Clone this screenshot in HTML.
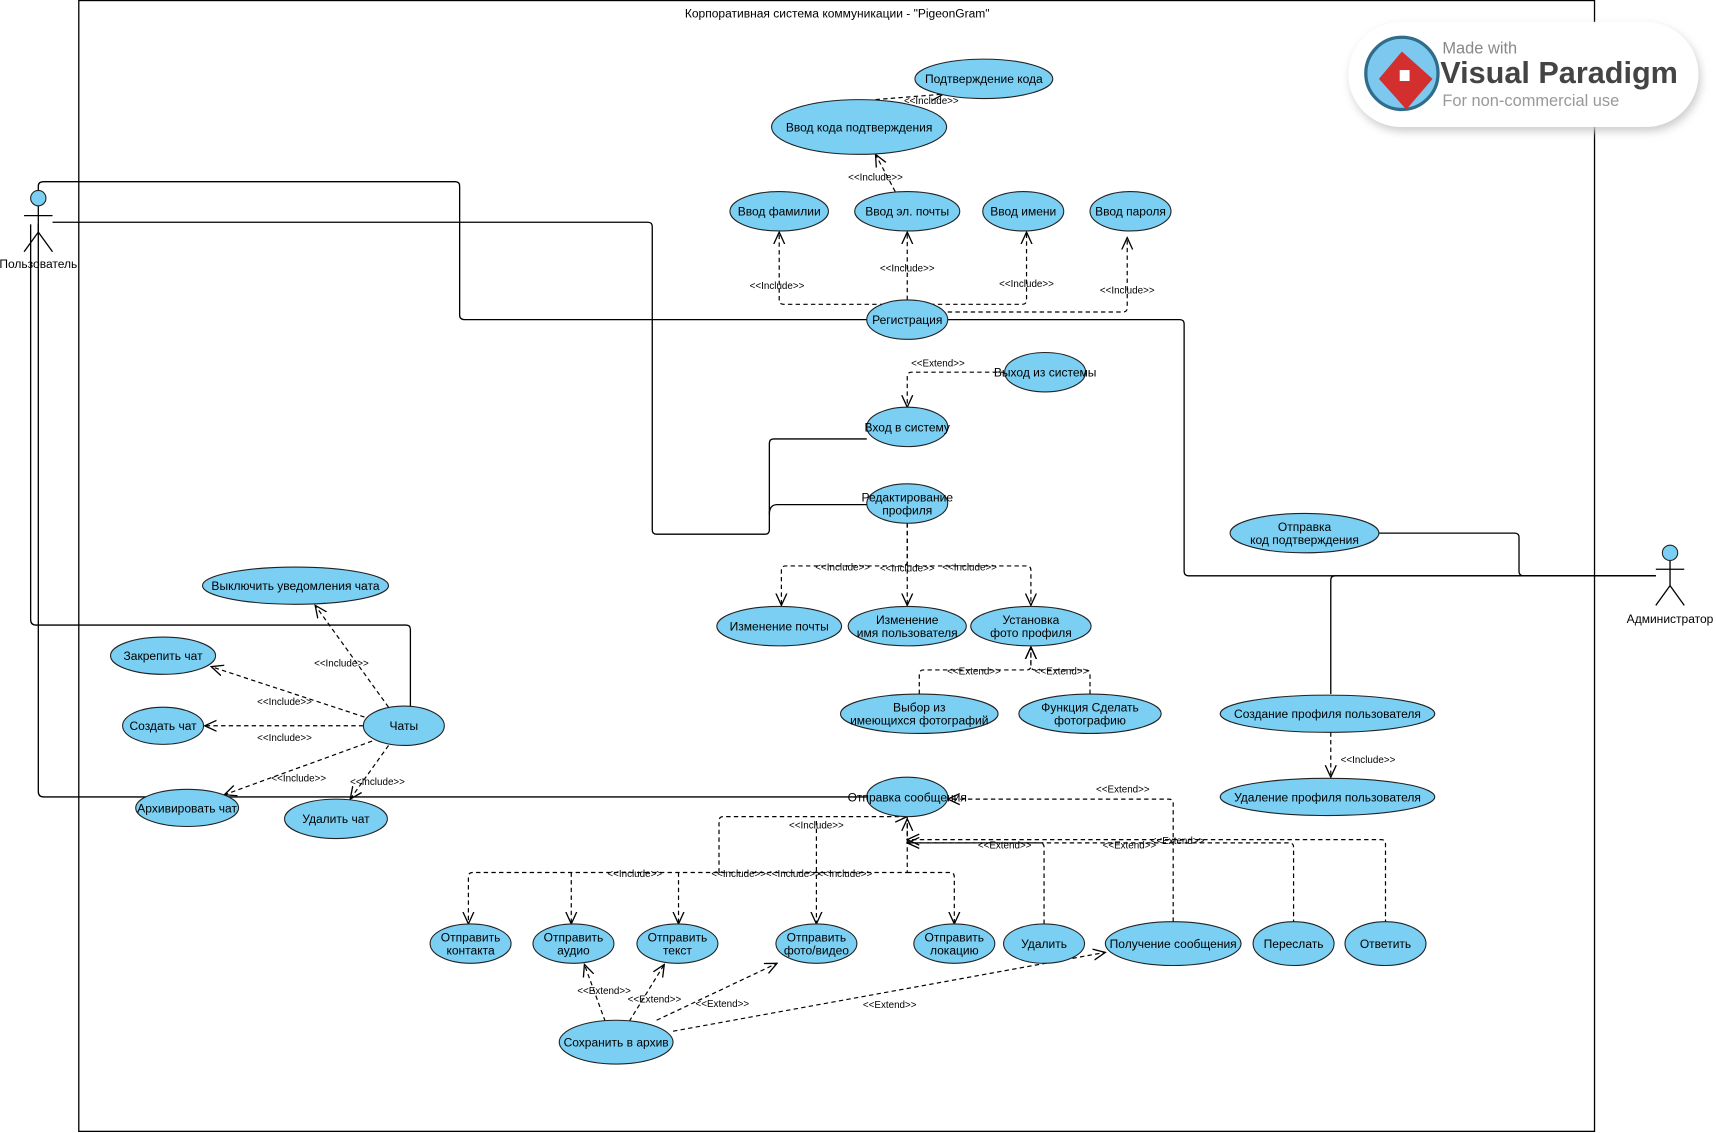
<!DOCTYPE html>
<html><head><meta charset="utf-8"><style>
html,body{margin:0;padding:0;background:#fff;}
svg{display:block;}
text{font-family:"Liberation Sans",sans-serif;}
.e{fill:#7acff2;stroke:#222;stroke-width:1}
.t{font-size:11px;text-anchor:middle;fill:#000}
.l{font-size:9px;text-anchor:middle;fill:#000}
.s{fill:none;stroke:#000;stroke-width:1.2}
.d{fill:none;stroke:#000;stroke-width:1.1;stroke-dasharray:4,3}
</style></head><body>
<svg width="1716" height="1133" viewBox="0 0 1568 1035" preserveAspectRatio="none" xmlns="http://www.w3.org/2000/svg">
<defs>
<marker id="a" viewBox="0 0 12 12" refX="11" refY="6" markerWidth="12" markerHeight="12" markerUnits="userSpaceOnUse" orient="auto"><path d="M0,1 L11,6 L0,11" fill="none" stroke="#000" stroke-width="1.2"/></marker>
<filter id="sh" x="-20%" y="-40%" width="140%" height="180%"><feGaussianBlur stdDeviation="4"/></filter>
</defs>
<rect x="72" y="0.5" width="1385" height="1033" fill="none" stroke="#000" stroke-width="1.2"/>
<text x="765" y="16" class="t">Корпоративная система коммуникации - "PigeonGram"</text>

<!-- logo -->
<rect x="1234" y="24" width="320" height="96" rx="48" fill="#ccc" filter="url(#sh)"/>
<rect x="1232" y="20" width="320" height="96" rx="48" fill="#fff"/>
<circle cx="1281" cy="67" r="33" fill="#7cc8ef" stroke="#2f6d8a" stroke-width="3"/>
<path d="M1281,47 L1309,72 L1285,100 L1260,72Z" fill="#d32f2f"/>
<rect x="1279" y="64" width="9" height="10" fill="#fff"/>
<text x="1318" y="49" font-size="15" fill="#888">Made with</text>
<text x="1316" y="76" font-size="28" font-weight="bold" fill="#444">Visual Paradigm</text>
<text x="1318" y="97" font-size="15" fill="#999">For non-commercial use</text>

<!-- actor lines -->
<path class="s" d="M35,175 V170 Q35,166 40,166 H416 Q420,166 420,170 V288 Q420,292 425,292 H792"/>
<path class="s" d="M48,203 H592 Q596,203 596,207 V484 Q596,488 600,488 H699 Q703,488 703,484 V405 Q703,401 707,401 H792"/>
<path class="s" d="M703,470 Q703,461 710,461 H792"/>
<path class="s" d="M28,205 V566 Q28,571 33,571 H371 Q375,571 375,575 V646"/>
<path class="s" d="M35,205 V723 Q35,728 40,728 H792"/>
<path class="s" d="M1513,526 H1392 Q1388,526 1388,522 V491 Q1388,487 1384,487 H1260"/>
<path class="s" d="M1513,526 H1086 Q1082,526 1082,522 V296 Q1082,292 1078,292 H866"/>
<path class="s" d="M1513,526 H1220 Q1216,526 1216,530 V634"/>

<!-- actors -->
<g stroke="#000" stroke-width="1.2" fill="none">
<line x1="35" y1="188" x2="35" y2="212"/><line x1="22" y1="197" x2="48" y2="197"/>
<line x1="35" y1="212" x2="22" y2="230"/><line x1="35" y1="212" x2="48" y2="230"/>
<line x1="1526" y1="512" x2="1526" y2="535"/><line x1="1513" y1="520" x2="1539" y2="520"/>
<line x1="1526" y1="535" x2="1513" y2="553"/><line x1="1526" y1="535" x2="1539" y2="553"/>
</g>
<circle cx="35" cy="181" r="7" class="e"/>
<circle cx="1526" cy="505" r="7" class="e"/>
<text x="35" y="245" class="t">Пользователь</text>
<text x="1526" y="569" class="t">Администратор</text>

<!-- dashed arrows -->
<g marker-end="url(#a)">
<path class="d" d="M800,91 L862,86"/>
<path class="d" d="M818,175 L800,141"/>
<path class="d" d="M829,278 H716 Q712,278 712,274 V212"/>
<path class="d" d="M829,274 V212"/>
<path class="d" d="M829,278 H934 Q938,278 938,274 V212"/>
<path class="d" d="M866,285 H1026 Q1030,285 1030,281 V217"/>
<path class="d" d="M918,340 H833 Q829,340 829,344 V372"/>
<path class="d" d="M829,478 V513 Q829,517 825,517 H718 Q714,517 714,521 V553"/>
<path class="d" d="M829,478 V553"/>
<path class="d" d="M829,517 H938 Q942,517 942,521 V553"/>
<path class="d" d="M840,634 V616 Q840,612 844,612 H938 Q942,612 942,608 V591"/>
<path class="d" d="M996,634 V616 Q996,612 992,612 H946 Q942,612 942,608 V591"/>
<path class="d" d="M1216,669 V710"/>
<path class="d" d="M355,646 L288,553"/>
<path class="d" d="M333,655 L193,609"/>
<path class="d" d="M332,663 L187,663"/>
<path class="d" d="M340,677 L205,726"/>
<path class="d" d="M355,681 L320,730"/>
<path class="d" d="M829,746 V797 H432 Q428,797 428,801 V844"/>
<path class="d" d="M522,797 V844"/>
<path class="d" d="M620,797 V844"/>
<path class="d" d="M746,750 V844"/>
<path class="d" d="M829,797 H868 Q872,797 872,801 V844"/>
<path class="d" d="M657,797 V750 Q657,746 661,746 H829"/>
<path class="d" d="M954,844 V774 Q954,770 950,770 H833 Q829,770 829,766 V748"/>
<path class="d" d="M1072,842 V734 Q1072,730 1068,730 H866"/>
<path class="d" d="M1182,844 V774 Q1182,770 1178,770 H829"/>
<path class="d" d="M1266,844 V771 Q1266,767 1262,767 H829"/>
<path class="d" d="M553,933 L534,881"/>
<path class="d" d="M575,933 L607,881"/>
<path class="d" d="M600,932 L710,880"/>
<path class="d" d="M615,942 L1010,870"/>
</g>

<!-- labels -->
<g class="l">
<text x="851" y="95">&lt;&lt;Include&gt;&gt;</text>
<text x="800" y="165">&lt;&lt;Include&gt;&gt;</text>
<text x="710" y="264">&lt;&lt;Include&gt;&gt;</text>
<text x="829" y="248">&lt;&lt;Include&gt;&gt;</text>
<text x="938" y="262">&lt;&lt;Include&gt;&gt;</text>
<text x="1030" y="268">&lt;&lt;Include&gt;&gt;</text>
<text x="857" y="335">&lt;&lt;Extend&gt;&gt;</text>
<text x="770" y="521">&lt;&lt;Include&gt;&gt;</text>
<text x="829" y="522">&lt;&lt;Include&gt;&gt;</text>
<text x="886" y="521">&lt;&lt;Include&gt;&gt;</text>
<text x="890" y="616">&lt;&lt;Extend&gt;&gt;</text>
<text x="970" y="616">&lt;&lt;Extend&gt;&gt;</text>
<text x="1250" y="697">&lt;&lt;Include&gt;&gt;</text>
<text x="312" y="609">&lt;&lt;Include&gt;&gt;</text>
<text x="260" y="644">&lt;&lt;Include&gt;&gt;</text>
<text x="260" y="677">&lt;&lt;Include&gt;&gt;</text>
<text x="273" y="714">&lt;&lt;Include&gt;&gt;</text>
<text x="345" y="717">&lt;&lt;Include&gt;&gt;</text>
<text x="1026" y="724">&lt;&lt;Extend&gt;&gt;</text>
<text x="746" y="757">&lt;&lt;Include&gt;&gt;</text>
<text x="918" y="775">&lt;&lt;Extend&gt;&gt;</text>
<text x="1032" y="775">&lt;&lt;Extend&gt;&gt;</text>
<text x="1076" y="771">&lt;&lt;Extend&gt;&gt;</text>
<text x="580" y="801">&lt;&lt;Include&gt;&gt;</text>
<text x="675" y="801">&lt;&lt;Include&gt;&gt;</text>
<text x="725" y="801">&lt;&lt;Include&gt;&gt;</text>
<text x="772" y="801">&lt;&lt;Include&gt;&gt;</text>
<text x="552" y="908">&lt;&lt;Extend&gt;&gt;</text>
<text x="598" y="916">&lt;&lt;Extend&gt;&gt;</text>
<text x="660" y="920">&lt;&lt;Extend&gt;&gt;</text>
<text x="813" y="921">&lt;&lt;Extend&gt;&gt;</text>
</g>

<!-- ellipses -->
<g>
<ellipse class="e" cx="899" cy="72" rx="63" ry="18"/><text class="t" x="899" y="76">Подтверждение кода</text>
<ellipse class="e" cx="785" cy="116" rx="80" ry="25"/><text class="t" x="785" y="120">Ввод кода подтверждения</text>
<ellipse class="e" cx="712" cy="193" rx="45" ry="18"/><text class="t" x="712" y="197">Ввод фамилии</text>
<ellipse class="e" cx="829" cy="193" rx="48" ry="18"/><text class="t" x="829" y="197">Ввод эл. почты</text>
<ellipse class="e" cx="935" cy="193" rx="37" ry="18"/><text class="t" x="935" y="197">Ввод имени</text>
<ellipse class="e" cx="1033" cy="193" rx="37" ry="18"/><text class="t" x="1033" y="197">Ввод пароля</text>
<ellipse class="e" cx="829" cy="292" rx="37" ry="18"/><text class="t" x="829" y="296">Регистрация</text>
<ellipse class="e" cx="955" cy="340" rx="37" ry="18"/><text class="t" x="955" y="344">Выход из системы</text>
<ellipse class="e" cx="829" cy="390" rx="37" ry="18"/><text class="t" x="829" y="394">Вход в систему</text>
<ellipse class="e" cx="829" cy="460" rx="37" ry="18"/><text class="t" x="829" y="458">Редактирование</text><text class="t" x="829" y="470">профиля</text>
<ellipse class="e" cx="1192" cy="487" rx="68" ry="18"/><text class="t" x="1192" y="485">Отправка</text><text class="t" x="1192" y="497">код подтверждения</text>
<ellipse class="e" cx="270" cy="535" rx="85" ry="17"/><text class="t" x="270" y="539">Выключить уведомления чата</text>
<ellipse class="e" cx="149" cy="599" rx="48" ry="17"/><text class="t" x="149" y="603">Закрепить чат</text>
<ellipse class="e" cx="149" cy="663" rx="37" ry="17"/><text class="t" x="149" y="667">Создать чат</text>
<ellipse class="e" cx="369" cy="663" rx="37" ry="18"/><text class="t" x="369" y="667">Чаты</text>
<ellipse class="e" cx="171" cy="738" rx="47" ry="17"/><text class="t" x="171" y="742">Архивировать чат</text>
<ellipse class="e" cx="307" cy="748" rx="47" ry="18"/><text class="t" x="307" y="752">Удалить чат</text>
<ellipse class="e" cx="712" cy="572" rx="57" ry="18"/><text class="t" x="712" y="576">Изменение почты</text>
<ellipse class="e" cx="829" cy="572" rx="54" ry="18"/><text class="t" x="829" y="570">Изменение</text><text class="t" x="829" y="582">имя пользователя</text>
<ellipse class="e" cx="942" cy="572" rx="55" ry="18"/><text class="t" x="942" y="570">Установка</text><text class="t" x="942" y="582">фото профиля</text>
<ellipse class="e" cx="840" cy="652" rx="72" ry="18"/><text class="t" x="840" y="650">Выбор из</text><text class="t" x="840" y="662">имеющихся фотографий</text>
<ellipse class="e" cx="996" cy="652" rx="65" ry="18"/><text class="t" x="996" y="650">Функция Сделать</text><text class="t" x="996" y="662">фотографию</text>
<ellipse class="e" cx="1213" cy="652" rx="98" ry="17"/><text class="t" x="1213" y="656">Создание профиля пользователя</text>
<ellipse class="e" cx="1213" cy="728" rx="98" ry="17"/><text class="t" x="1213" y="732">Удаление профиля пользователя</text>
<ellipse class="e" cx="829" cy="728" rx="37" ry="18"/><text class="t" x="829" y="732">Отправка сообщения</text>
<ellipse class="e" cx="430" cy="862" rx="37" ry="18"/><text class="t" x="430" y="860">Отправить</text><text class="t" x="430" y="872">контакта</text>
<ellipse class="e" cx="524" cy="862" rx="37" ry="18"/><text class="t" x="524" y="860">Отправить</text><text class="t" x="524" y="872">аудио</text>
<ellipse class="e" cx="619" cy="862" rx="37" ry="18"/><text class="t" x="619" y="860">Отправить</text><text class="t" x="619" y="872">текст</text>
<ellipse class="e" cx="746" cy="862" rx="37" ry="18"/><text class="t" x="746" y="860">Отправить</text><text class="t" x="746" y="872">фото/видео</text>
<ellipse class="e" cx="872" cy="862" rx="37" ry="18"/><text class="t" x="872" y="860">Отправить</text><text class="t" x="872" y="872">локацию</text>
<ellipse class="e" cx="954" cy="862" rx="37" ry="18"/><text class="t" x="954" y="866">Удалить</text>
<ellipse class="e" cx="1072" cy="862" rx="62" ry="20"/><text class="t" x="1072" y="866">Получение сообщения</text>
<ellipse class="e" cx="1182" cy="862" rx="37" ry="20"/><text class="t" x="1182" y="866">Переслать</text>
<ellipse class="e" cx="1266" cy="862" rx="37" ry="20"/><text class="t" x="1266" y="866">Ответить</text>
<ellipse class="e" cx="563" cy="952" rx="52" ry="20"/><text class="t" x="563" y="956">Сохранить в архив</text>
</g>
</svg>
</body></html>
